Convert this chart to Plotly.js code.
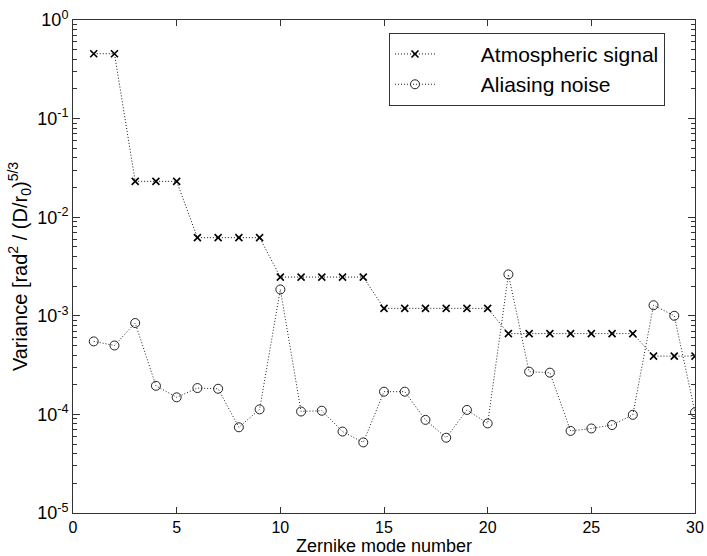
<!DOCTYPE html>
<html><head><meta charset="utf-8">
<script src="https://cdn.plot.ly/plotly-3.0.1.min.js"></script>
<style>html,body{margin:0;padding:0;background:#fff}#chart{width:707px;height:556px}</style>
</head><body><div id="chart"></div>
<script>
const modes = [1,2,3,4,5,6,7,8,9,10,11,12,13,14,15,16,17,18,19,20,21,22,23,24,25,26,27,28,29,30];
const atmospheric = [0.455,0.455,0.0231,0.0231,0.0231,0.0062,0.0062,0.0062,0.0062,
  0.00247,0.00247,0.00247,0.00247,0.00247,
  0.00119,0.00119,0.00119,0.00119,0.00119,0.00119,
  6.6e-4,6.6e-4,6.6e-4,6.6e-4,6.6e-4,6.6e-4,6.6e-4,
  3.9e-4,3.9e-4,3.9e-4];
const aliasing = [5.5e-4,5.0e-4,8.45e-4,1.95e-4,1.49e-4,1.85e-4,1.82e-4,7.4e-5,1.125e-4,1.85e-3,
  1.07e-4,1.09e-4,6.7e-5,5.2e-5,1.7e-4,1.7e-4,8.8e-5,5.8e-5,1.11e-4,8.1e-5,
  2.63e-3,2.71e-4,2.65e-4,6.8e-5,7.2e-5,7.8e-5,9.9e-5,1.28e-3,1.0e-3,1.05e-4];
const seriesNames = ["Atmospheric signal","Aliasing noise"];
const xTicks = [0,5,10,15,20,25,30];
const yTickVals = [1e-5,1e-4,1e-3,1e-2,1e-1,1];
const yTickText = ["10<sup>-5</sup>","10<sup>-4</sup>","10<sup>-3</sup>","10<sup>-2</sup>","10<sup>-1</sup>","10<sup>0</sup>"];
const xTitle = "Zernike mode number";
const yTitle = "Variance [rad<sup>2</sup> / (D/r<sub>0</sub>)<sup>5/3</sup>";

const pad = "\u00a0\u00a0\u00a0\u00a0\u00a0\u00a0\u00a0";
const traces = [
  {x: modes, y: atmospheric, name: pad + seriesNames[0], type: 'scatter', mode: 'lines+markers',
   line: {color: '#111', width: 1, dash: '1px,2px'},
   marker: {symbol: 'x-thin-open', size: 7, color: '#000', line: {color: '#000', width: 1.6}}},
  {x: modes, y: aliasing, name: pad + seriesNames[1], type: 'scatter', mode: 'lines+markers',
   line: {color: '#222', width: 1, dash: '1px,2px'},
   marker: {symbol: 'circle-open', size: 9, color: '#222', line: {color: '#222', width: 1}}}
];
const font = {family: 'Liberation Sans, Arial, sans-serif', color: '#000'};
const layout = {
  width: 707, height: 556,
  margin: {l: 73, r: 12, t: 20, b: 43},
  paper_bgcolor: '#fff', plot_bgcolor: '#fff',
  font: Object.assign({size: 18}, font),
  showlegend: true,
  legend: {x: 0.508, y: 0.974, xanchor: 'left', yanchor: 'top',
    bordercolor: '#333', borderwidth: 1, bgcolor: '#fff',
    font: Object.assign({size: 21}, font), tracegroupgap: 0, itemwidth: 40},
  xaxis: {range: [0, 30], tickvals: xTicks, ticks: 'inside', ticklen: 6, tickcolor: '#333',
    showline: true, linecolor: '#333', linewidth: 1, mirror: 'ticks', showgrid: false, zeroline: false,
    tickfont: Object.assign({size: 16}, font),
    title: {text: xTitle, font: Object.assign({size: 18}, font), standoff: 3}},
  yaxis: {type: 'log', range: [-5, 0], tickvals: yTickVals, ticktext: yTickText,
    ticks: 'inside', ticklen: 7, tickcolor: '#333',
    minor: {ticks: 'inside', ticklen: 4, tickcolor: '#333', dtick: 'D1', showgrid: false},
    showline: true, linecolor: '#333', linewidth: 1, mirror: 'ticks', showgrid: false, zeroline: false,
    tickfont: Object.assign({size: 18}, font),
    title: {text: yTitle, font: Object.assign({size: 20}, font), standoff: 4}}
};
Plotly.newPlot('chart', traces, layout, {displayModeBar: false, staticPlot: true});
</script></body></html>
